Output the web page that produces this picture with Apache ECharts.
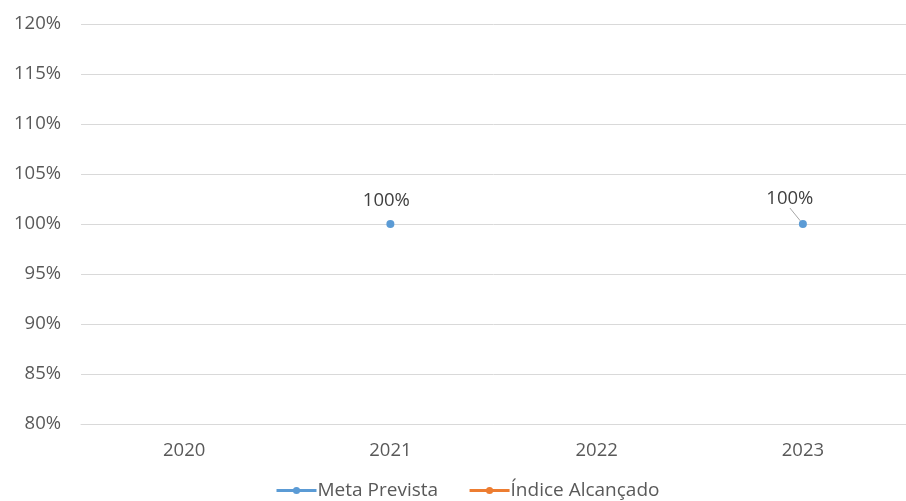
<!DOCTYPE html>
<html>
<head>
<meta charset="utf-8">
<script src="https://cdn.jsdelivr.net/npm/echarts@6/dist/echarts.min.js"></script>
<style>html,body{margin:0;padding:0;background:#fff}#c{width:906px;height:501px}</style>
</head>
<body>
<div id="c"></div>
<script>
var categories = ['2020', '2021', '2022', '2023'];
var metaPrevista = [null, 100, null, 100];
var indiceAlcancado = [null, null, null, null];
var seriesNames = ['Meta Prevista', 'Índice Alcançado'];

var chart = echarts.init(document.getElementById('c'));
var font = 'Open Sans, Noto Sans, sans-serif';
var fs = 18.5;
var metaData = metaPrevista.map(function (v, i) {
  return i === 3 ? {value: v, labelLine: {show: true}} : v;
});
chart.setOption({
  animation: false,
  textStyle: {fontFamily: font},
  grid: {left: 81, right: 0, top: 24, bottom: 77},
  legend: {
    data: seriesNames,
    top: 481,
    left: 275,
    itemWidth: 40,
    itemHeight: 9,
    itemGap: 30,
    padding: 0,
    lineStyle: {width: 3},
    textStyle: {color: '#595959', fontSize: 19, fontFamily: font, padding: [0, 0, 0, -4]}
  },
  xAxis: {
    type: 'category',
    data: categories,
    axisLine: {lineStyle: {color: '#d9d9d9', width: 1}},
    axisTick: {show: false},
    axisLabel: {color: '#595959', fontSize: fs, margin: 17, fontFamily: font}
  },
  yAxis: {
    type: 'value',
    min: 80, max: 120, interval: 5,
    axisLine: {show: false},
    axisTick: {show: false},
    splitLine: {lineStyle: {color: '#d9d9d9'}},
    axisLabel: {color: '#595959', fontSize: fs, margin: 20, fontFamily: font,
      formatter: function (v) { return v + '%'; }}
  },
  series: [
    {
      name: seriesNames[0], type: 'line', data: metaData,
      symbol: 'circle', symbolSize: 8,
      itemStyle: {color: '#5B9BD5'},
      lineStyle: {color: '#5B9BD5', width: 2.5},
      label: {show: true, position: 'top', distance: 10, color: '#404040', fontSize: fs, fontFamily: font,
        formatter: function (p) { return p.value + '%'; }},
      labelLine: {show: false, lineStyle: {color: '#a6a6a6', width: 1}},
      labelLayout: function (p) {
        if (p.dataIndex === 3) return {dx: -13, dy: -2};
        return {dx: -4};
      }
    },
    {
      name: seriesNames[1], type: 'line', data: indiceAlcancado,
      symbol: 'circle', symbolSize: 8,
      itemStyle: {color: '#ED7D31'},
      lineStyle: {color: '#ED7D31', width: 2.5}
    }
  ]
});
</script>
</body>
</html>
